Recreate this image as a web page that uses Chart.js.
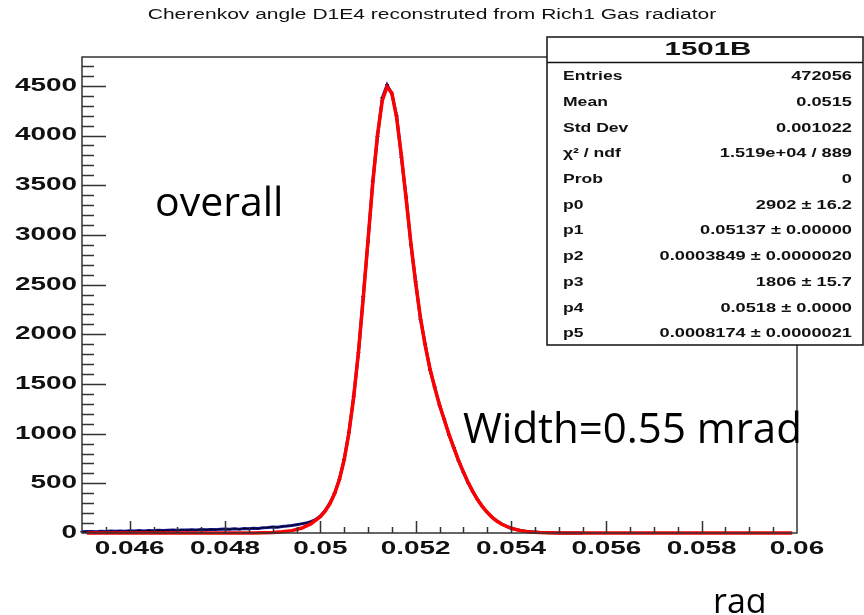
<!DOCTYPE html>
<html>
<head>
<meta charset="utf-8">
<script src="https://cdn.jsdelivr.net/npm/chart.js@4"></script>
<style>
  html, body { margin: 0; padding: 0; background: #fff; }
  #c { display: block; }
</style>
</head>
<body>
<canvas id="c" width="864" height="615"></canvas>
<script>
// ---------- DATA ----------
const TITLE = 'Cherenkov angle D1E4 reconstruted from Rich1 Gas radiator';

// histogram: counts per 0.0001 bin, starting at 0.0450
const HIST_START = 0.0450;
const BIN_WIDTH = 0.0001;
const histCounts = [
    12, 14, 16, 13, 17, 15, 19, 17, 20, 18,          // 0.0450 - 0.0459
    22, 20, 24, 21, 25, 23, 27, 24, 28, 30,          // 0.0460 - 0.0469
    27, 31, 29, 33, 30, 34, 32, 36, 34, 38,          // 0.0470 - 0.0479
    40, 37, 42, 39, 45, 43, 48, 46, 52, 55,          // 0.0480 - 0.0489
    60, 58, 66, 70, 76, 84, 92, 100, 115, 135,       // 0.0490 - 0.0499
    170, 225, 300, 400, 540, 740, 1010, 1375, 1815, 2380,  // 0.0500 - 0.0509
    2930, 3540, 3990, 4380, 4510, 4420, 4200, 3780, 3380, 2900, // 0.0510 - 0.0519
    2530, 2150, 1900, 1640, 1470, 1285, 1145, 985, 860, 725,    // 0.0520 - 0.0529
    612, 505, 415, 335, 265, 208, 160, 122, 92, 68,  // 0.0530 - 0.0539
    50, 36, 26, 18, 13, 9, 6, 4, 3, 2,               // 0.0540 - 0.0549
    1, 1, 1, 0, 1, 0                                 // 0.0550 - 0.0555
];

// fitted double gaussian
const fitX = [
    0.0451, 0.0470, 0.0484, 0.0486, 0.0488, 0.0490, 0.0492, 0.0494, 0.0496, 0.0498,
    0.0500, 0.0501, 0.0502, 0.0503, 0.0504, 0.0505, 0.0506, 0.0507, 0.0508, 0.0509,
    0.0510, 0.0511, 0.0512, 0.0513, 0.0514, 0.0515, 0.0516, 0.0517, 0.0518, 0.0519,
    0.0520, 0.0521, 0.0522, 0.0523, 0.0524, 0.0525, 0.0526, 0.0527, 0.0528, 0.0529,
    0.0530, 0.0531, 0.0532, 0.0533, 0.0534, 0.0535, 0.0536, 0.0537, 0.0538, 0.0540,
    0.0542, 0.0544, 0.0546, 0.0548, 0.0550, 0.0555, 0.0599
];
const fitY = [
    0, 0, 0, 1, 2, 5, 12, 24, 48, 91,
    165, 220, 294, 396, 538, 736, 1008, 1368, 1823, 2362,
    2947, 3521, 4011, 4352, 4490, 4429, 4181, 3801, 3361, 2917,
    2513, 2168, 1886, 1655, 1460, 1291, 1137, 992, 857, 731,
    615, 510, 416, 335, 266, 208, 160, 121, 90, 48,
    24, 11, 5, 2, 1, 0, 0
];

// axes
const X_MIN = 0.045, X_MAX = 0.06;
const Y_MIN = 0, Y_MAX = 4790;
const xTickValues = [0.046, 0.048, 0.050, 0.052, 0.054, 0.056, 0.058, 0.060];
const xTickLabels = ['0.046', '0.048', '0.05', '0.052', '0.054', '0.056', '0.058', '0.06'];
const yTickValues = [0, 500, 1000, 1500, 2000, 2500, 3000, 3500, 4000, 4500];
const yTickLabels = ['0', '500', '1000', '1500', '2000', '2500', '3000', '3500', '4000', '4500'];

// stats box
const STAT_TITLE = '1501B';
const statNames = ['Entries', 'Mean', 'Std Dev', 'χ² / ndf', 'Prob', 'p0', 'p1', 'p2', 'p3', 'p4', 'p5'];
const statValues = ['472056', '0.0515', '0.001022', '1.519e+04 / 889', '0', '2902 ± 16.2',
    '0.05137 ± 0.00000', '0.0003849 ± 0.0000020', '1806 ± 15.7', '0.0518 ± 0.0000', '0.0008174 ± 0.0000021'];

const histPoints = histCounts.map((v, i) => ({ x: HIST_START + i * BIN_WIDTH, y: v }));
const fitPoints = fitX.map((x, i) => ({ x, y: fitY[i] }));

// ---------- HELPERS ----------
const ROOT_FONT = '"Liberation Sans", Arial, sans-serif';
const NOTE_FONT = '"Open Sans", sans-serif';

// ROOT text in the picture is stretched sideways
function wideText(ctx, str, x, y, font, align, sx) {
    ctx.save();
    ctx.font = font;
    ctx.textBaseline = 'middle';
    ctx.textAlign = 'left';
    const w = ctx.measureText(str).width * sx;
    const left = align === 'center' ? x - w / 2 : (align === 'right' ? x - w : x);
    ctx.translate(left, y);
    ctx.scale(sx, 1);
    ctx.fillText(str, 0, 0);
    ctx.restore();
}

// ---------- DECORATION PLUGIN ----------
const rootFrame = {
    id: 'rootFrame',
    afterDraw(chart) {
        const ctx = chart.ctx;
        const area = chart.chartArea;
        const xs = chart.scales.x, ys = chart.scales.y;
        ctx.save();
        ctx.fillStyle = '#111';

        // title
        wideText(ctx, TITLE, 432, 15, '14px ' + ROOT_FONT, 'center', 1.5);

        // frame
        ctx.strokeStyle = '#333';
        ctx.lineWidth = 1.5;
        ctx.strokeRect(area.left, area.top, area.right - area.left, area.bottom - area.top);

        // x ticks (major 0.002, minor 0.0005)
        ctx.beginPath();
        for (let i = 1; i < 30; i++) {
            const v = X_MIN + i * 0.0005;
            const px = Math.round(xs.getPixelForValue(v)) + 0.5;
            const len = (i % 4 === 2) ? 12 : 6;
            ctx.moveTo(px, area.bottom);
            ctx.lineTo(px, area.bottom - len);
        }
        // y ticks (major 500, minor 100)
        for (let v = 100; v < Y_MAX; v += 100) {
            const py = Math.round(ys.getPixelForValue(v)) + 0.5;
            const len = (v % 500 === 0) ? 24 : 12;
            ctx.moveTo(area.left, py);
            ctx.lineTo(area.left + len, py);
        }
        ctx.stroke();

        // tick labels
        xTickValues.forEach((v, i) => {
            wideText(ctx, xTickLabels[i], xs.getPixelForValue(v), 549, 'bold 18px ' + ROOT_FONT, 'center', 1.55);
        });
        yTickValues.forEach((v, i) => {
            wideText(ctx, yTickLabels[i], 77, ys.getPixelForValue(v), 'bold 18px ' + ROOT_FONT, 'right', 1.55);
        });

        // stats box
        const bx = 547, by = 37, bw = 316, bh = 308;
        ctx.fillStyle = '#fff';
        ctx.fillRect(bx, by, bw, bh);
        ctx.strokeStyle = '#111';
        ctx.lineWidth = 1.5;
        ctx.strokeRect(bx, by, bw, bh);
        ctx.beginPath();
        ctx.moveTo(bx, 62.5);
        ctx.lineTo(bx + bw, 62.5);
        ctx.stroke();
        ctx.fillStyle = '#111';
        wideText(ctx, STAT_TITLE, 708, 50, 'bold 19px ' + ROOT_FONT, 'center', 1.55);
        statNames.forEach((name, i) => {
            const y = 76.5 + i * 25.7;
            wideText(ctx, name, 563, y, 'bold 13.5px ' + ROOT_FONT, 'left', 1.3);
            wideText(ctx, statValues[i], 852, y, 'bold 13.5px ' + ROOT_FONT, 'right', 1.35);
        });

        // slide notes
        ctx.fillStyle = '#000';
        ctx.textBaseline = 'alphabetic';
        ctx.textAlign = 'left';
        ctx.font = '41px ' + NOTE_FONT;
        ctx.fillText('overall', 155, 216);
        ctx.font = '42px ' + NOTE_FONT;
        ctx.fillText('Width=0.55 mrad', 463, 443);

        // axis title, cut off by the slide edge
        ctx.save();
        ctx.beginPath();
        ctx.rect(700, 593, 100, 30);
        ctx.clip();
        ctx.font = '34px ' + NOTE_FONT;
        ctx.fillText('rad', 713, 613);
        ctx.restore();

        ctx.restore();
    }
};

// ---------- CHART ----------
new Chart(document.getElementById('c'), {
    type: 'scatter',
    data: {
        datasets: [
            {
                label: 'fit',
                data: fitPoints,
                showLine: true,
                borderColor: '#ff0000',
                borderWidth: 3.5,
                pointRadius: 0,
                tension: 0,
                clip: 4
            },
            {
                label: 'data',
                data: histPoints,
                showLine: true,
                borderColor: '#14148c',
                borderWidth: 3,
                pointStyle: 'line',
                pointRadius: 2,
                pointBorderWidth: 1,
                pointBorderColor: '#000',
                pointBackgroundColor: '#000',
                clip: 4
            }
        ]
    },
    options: {
        responsive: false,
        animation: false,
        devicePixelRatio: 1,
        layout: { padding: { left: 0, top: 57, right: 67, bottom: 0 } },
        plugins: {
            legend: { display: false },
            tooltip: { enabled: false },
            title: { display: false }
        },
        scales: {
            x: {
                type: 'linear',
                min: X_MIN,
                max: X_MAX,
                ticks: { display: false },
                grid: { display: false },
                border: { display: false },
                afterFit: s => { s.height = 82; }
            },
            y: {
                type: 'linear',
                min: Y_MIN,
                max: Y_MAX,
                ticks: { display: false },
                grid: { display: false },
                border: { display: false },
                afterFit: s => { s.width = 82; }
            }
        }
    },
    plugins: [rootFrame]
});
</script>
</body>
</html>
